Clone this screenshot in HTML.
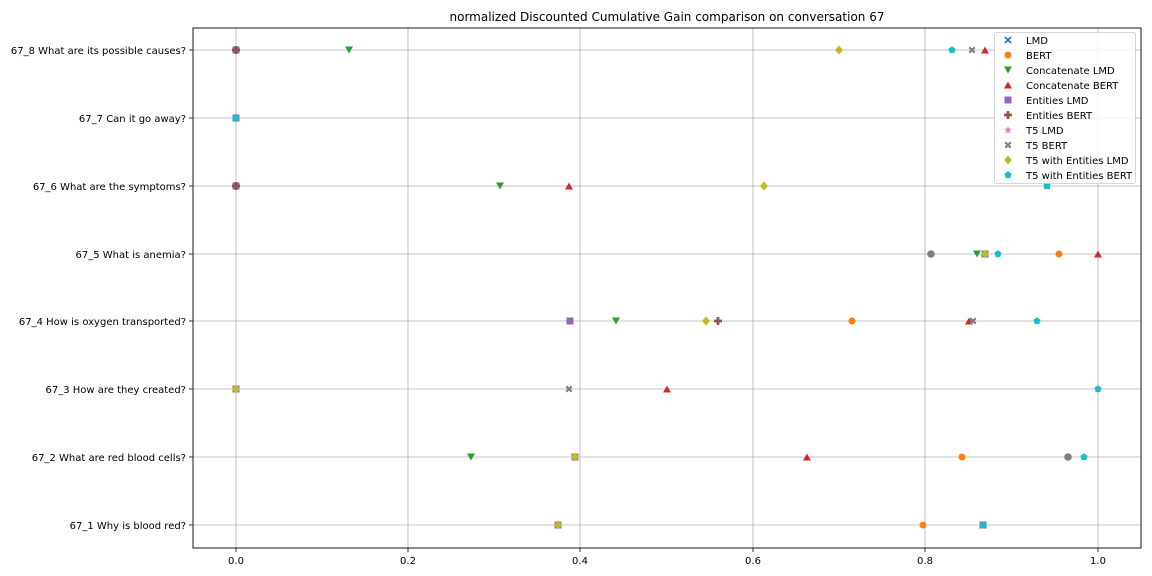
<!DOCTYPE html>
<html><head><meta charset="utf-8"><style>
html,body{margin:0;padding:0;background:#fff;}
svg{display:block;font-family:"DejaVu Sans","Liberation Sans",sans-serif;}
</style></head><body>
<svg width="1152" height="576" viewBox="0 0 1152 576" xmlns="http://www.w3.org/2000/svg">
<defs>
<g id="mx"><path d="M-3,-3L3,3M-3,3L3,-3" stroke="#1f77b4" stroke-width="1.6"/></g>
<circle id="mo" r="3.5" fill="#ff7f0e"/>
<path id="mv" d="M-4,-3.5L4,-3.5L0,3.5Z" fill="#2ca02c"/>
<path id="m2" d="M-4,3.5L4,3.5L0,-3.5Z" fill="#d62728"/>
<rect id="ms" x="-3.5" y="-3.5" width="7" height="7" fill="#9467bd"/>
<path id="mp" d="M-1.4,-4H1.4V-1.4H4V1.4H1.4V4H-1.4V1.4H-4V-1.4H-1.4Z" fill="#8c564b"/>
<path id="mst" d="M0,-4L1,-1.2L4,-1.2L1.6,0.6L2.4,3.6L0,1.8L-2.4,3.6L-1.6,0.6L-4,-1.2L-1,-1.2Z" fill="#e377c2"/>
<path id="mX" d="M-3.5,-2L-2,-3.5L0,-1.5L2,-3.5L3.5,-2L1.5,0L3.5,2L2,3.5L0,1.5L-2,3.5L-3.5,2L-1.5,0Z" fill="#7f7f7f"/>
<path id="md" d="M0,-4.5L4,0L0,4.5L-4,0Z" fill="#bcbd22"/>
<path id="mpe" d="M0,-3.8L3.6,-1.2L2.2,3.1L-2.2,3.1L-3.6,-1.2Z" fill="#17becf"/>
</defs>
<text x="667" y="21" font-size="12" text-anchor="middle" fill="#000">normalized Discounted Cumulative Gain comparison on conversation 67</text>
<g stroke="#b0b0b0" stroke-width="0.8">
<line x1="236" y1="28" x2="236" y2="548"/><line x1="408" y1="28" x2="408" y2="548"/><line x1="580" y1="28" x2="580" y2="548"/><line x1="753" y1="28" x2="753" y2="548"/><line x1="925" y1="28" x2="925" y2="548"/><line x1="1098" y1="28" x2="1098" y2="548"/>
<line x1="193" y1="50" x2="1141" y2="50"/><line x1="193" y1="118" x2="1141" y2="118"/><line x1="193" y1="186" x2="1141" y2="186"/><line x1="193" y1="254" x2="1141" y2="254"/><line x1="193" y1="321" x2="1141" y2="321"/><line x1="193" y1="389" x2="1141" y2="389"/><line x1="193" y1="457" x2="1141" y2="457"/><line x1="193" y1="525" x2="1141" y2="525"/>
</g>
<rect x="193" y="28" width="948" height="520" fill="none" stroke="#000" stroke-width="0.9"/>
<g stroke="#000" stroke-width="0.8">
<line x1="236" y1="548" x2="236" y2="552"/><line x1="408" y1="548" x2="408" y2="552"/><line x1="580" y1="548" x2="580" y2="552"/><line x1="753" y1="548" x2="753" y2="552"/><line x1="925" y1="548" x2="925" y2="552"/><line x1="1098" y1="548" x2="1098" y2="552"/>
<line x1="189" y1="50" x2="193" y2="50"/><line x1="189" y1="118" x2="193" y2="118"/><line x1="189" y1="186" x2="193" y2="186"/><line x1="189" y1="254" x2="193" y2="254"/><line x1="189" y1="321" x2="193" y2="321"/><line x1="189" y1="389" x2="193" y2="389"/><line x1="189" y1="457" x2="193" y2="457"/><line x1="189" y1="525" x2="193" y2="525"/>
</g>
<g font-size="10" text-anchor="middle" fill="#000">
<text x="236" y="564">0.0</text><text x="408" y="564">0.2</text><text x="580" y="564">0.4</text><text x="753" y="564">0.6</text><text x="925" y="564">0.8</text><text x="1098" y="564">1.0</text>
</g>
<g font-size="10" text-anchor="end" fill="#000">
<text x="186" y="54">67_8 What are its possible causes?</text>
<text x="186" y="122">67_7 Can it go away?</text>
<text x="186" y="190">67_6 What are the symptoms?</text>
<text x="186" y="258">67_5 What is anemia?</text>
<text x="186" y="325">67_4 How is oxygen transported?</text>
<text x="186" y="393">67_3 How are they created?</text>
<text x="186" y="461">67_2 What are red blood cells?</text>
<text x="186" y="529">67_1 Why is blood red?</text>
</g>
<!-- row 67_8 -->
<use href="#ms" x="236" y="50"/><use href="#mp" x="236" y="50"/>
<use href="#mv" x="349" y="50"/><use href="#md" x="839" y="50"/><use href="#mpe" x="952" y="50"/><use href="#mX" x="972" y="50"/><use href="#m2" x="985" y="50"/>
<!-- row 67_7 -->
<use href="#md" x="236" y="118"/><use href="#ms" x="236" y="118"/><use href="#mpe" x="236" y="118"/>
<!-- row 67_6 -->
<use href="#ms" x="236" y="186"/><use href="#mp" x="236" y="186"/>
<use href="#mv" x="500" y="186"/><use href="#m2" x="569" y="186"/><use href="#md" x="764" y="186"/><use href="#mX" x="1047" y="186"/><use href="#mpe" x="1047" y="186"/>
<!-- row 67_5 -->
<circle cx="931" cy="254" r="3.8" fill="#7f7f7f"/><use href="#mv" x="977" y="254"/><use href="#ms" x="985" y="254"/><use href="#md" x="985" y="254"/><use href="#mpe" x="998" y="254"/><use href="#mo" x="1059" y="254"/><use href="#m2" x="1098" y="254"/>
<!-- row 67_4 -->
<use href="#ms" x="570" y="321"/><use href="#mv" x="616" y="321"/><use href="#md" x="706" y="321"/><use href="#mp" x="718" y="321"/><use href="#mo" x="852" y="321"/><use href="#m2" x="969" y="321"/><use href="#mX" x="973" y="321"/><use href="#mpe" x="1037" y="321"/>
<!-- row 67_3 -->
<use href="#ms" x="236" y="389"/><use href="#md" x="236" y="389"/><use href="#mX" x="569" y="389"/><use href="#m2" x="667" y="389"/><use href="#mpe" x="1098" y="389"/>
<!-- row 67_2 -->
<use href="#mv" x="471" y="457"/><use href="#ms" x="575" y="457"/><use href="#md" x="575" y="457"/><use href="#m2" x="807" y="457"/><use href="#mo" x="962" y="457"/><circle cx="1068" cy="457" r="3.8" fill="#7f7f7f"/><use href="#mpe" x="1084" y="457"/>
<!-- row 67_1 -->
<use href="#ms" x="558" y="525"/><use href="#md" x="558" y="525"/><use href="#mo" x="923" y="525"/><use href="#m2" x="983" y="525"/><use href="#ms" x="983" y="525"/><use href="#mpe" x="983" y="525"/>
<!-- legend -->
<rect x="994.5" y="32.5" width="141" height="151" fill="#fff" fill-opacity="0.85" stroke="#ccc" stroke-width="0.8" rx="2"/>
<use href="#mx" x="1008" y="40"/><use href="#mo" x="1008" y="55"/><use href="#mv" x="1008" y="70"/><use href="#m2" x="1008" y="85"/><use href="#ms" x="1008" y="100"/><use href="#mp" x="1008" y="115"/><use href="#mst" x="1008" y="130"/><use href="#mX" x="1008" y="145"/><use href="#md" x="1008" y="160"/><use href="#mpe" x="1008" y="175"/>
<g font-size="10" fill="#000">
<text x="1026" y="44">LMD</text><text x="1026" y="59">BERT</text><text x="1026" y="74">Concatenate LMD</text><text x="1026" y="89">Concatenate BERT</text><text x="1026" y="104">Entities LMD</text><text x="1026" y="119">Entities BERT</text><text x="1026" y="134">T5 LMD</text><text x="1026" y="149">T5 BERT</text><text x="1026" y="164">T5 with Entities LMD</text><text x="1026" y="179">T5 with Entities BERT</text>
</g>
</svg>
</body></html>
